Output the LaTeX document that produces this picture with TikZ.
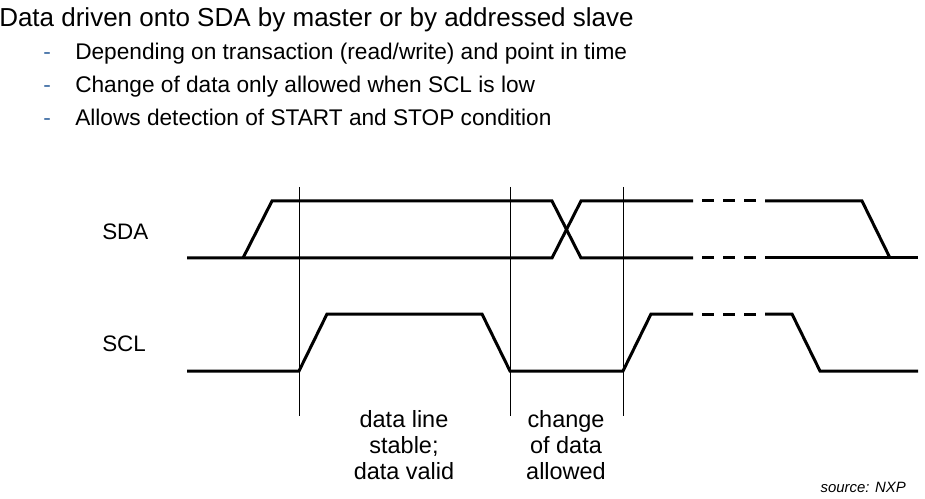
\documentclass[tikz,border=0pt]{standalone}
\usepackage{fontspec}
\setmainfont{Liberation Sans}
\usepackage{tikz}
\usetikzlibrary{calc}
\definecolor{bulletblue}{RGB}{64,110,165}

\begin{document}
\begin{tikzpicture}[x=0.75pt,y=-0.75pt,
    sigline/.style={line width=2.25pt},
    gapline/.style={line width=2.25pt, dash pattern=on 9pt off 6.75pt},
    guide/.style={line width=0.7pt},
    bigtext/.style={anchor=base west, inner sep=0pt, font=\fontsize{19.5}{23}\selectfont},
    itemtext/.style={anchor=base west, inner sep=0pt, font=\fontsize{17}{20}\selectfont},
    itemdash/.style={anchor=base west, inner sep=0pt, text=bulletblue, font=\fontsize{17}{20}\selectfont},
    signame/.style={anchor=base west, inner sep=0pt, font=\fontsize{16.8}{20}\selectfont},
    phase/.style={anchor=base, inner sep=0pt, align=center, font=\fontsize{17.6}{19.4}\selectfont}]
  \useasboundingbox (0,0) rectangle (925,499);

  \node[bigtext] (title) at (-1,27) {Data driven onto SDA by master or by addressed slave};
  \node[itemdash] (d1) at (43,60)  {-};
  \node[itemdash] (d2) at (43,93)  {-};
  \node[itemdash] (d3) at (43,126) {-};
  \node[itemtext] (t1) at (75,60)  {Depending on transaction (read/write) and point in time};
  \node[itemtext] (t2) at (75,93)  {Change of data only allowed when SCL is low};
  \node[itemtext] (t3) at (75,126) {Allows detection of START and STOP condition};

  \node[signame] (sda) at (102,239) {SDA};
  \node[signame] (scl) at (102,351) {SCL};

  \draw[guide] (299,187) -- (299,416);
  \draw[guide] (510,187) -- (510,416);
  \draw[guide] (623,187) -- (623,416);

  \draw[sigline] (187,258) -- (552,258) -- (581,201) -- (693,201);
  \draw[sigline] (243,258) -- (272,201) -- (552,201) -- (581,258) -- (693,258);
  \draw[gapline] (702,201) -- (756,201);
  \draw[gapline] (702,258) -- (756,258);
  \draw[sigline] (765,201) -- (862,201) -- (890,258);
  \draw[sigline] (765,258) -- (918,258);

  \draw[sigline] (187,371) -- (299,371) -- (327,314) -- (482,314) -- (510,371)
    -- (623,371) -- (651,314) -- (693,314);
  \draw[gapline] (702,314) -- (756,314);
  \draw[sigline] (765,314) -- (792,314) -- (820,371) -- (918,371);

  \node[phase] (stable) at (404,479) {data line\\stable;\\data valid};
  \node[phase] (change) at (566,479) {change\\of data\\allowed};

  \node[anchor=base east, inner sep=0pt, font=\fontsize{11.2}{13}\selectfont\itshape] (src) at (906,492) {source: NXP};
\end{tikzpicture}
\end{document}
